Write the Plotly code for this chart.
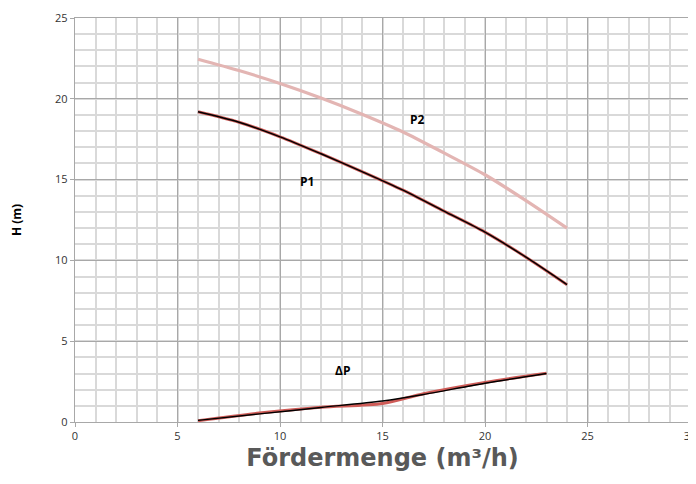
import plotly.graph_objects as go

# Förderstrom Q (m³/h)
q_pump = [6, 8, 10, 12, 14, 16, 18, 20, 22, 24]
h_p2 = [22.45, 21.75, 20.95, 20.05, 19.05, 17.95, 16.65, 15.3, 13.7, 12.0]
h_p1 = [19.2, 18.55, 17.65, 16.6, 15.5, 14.35, 13.05, 11.75, 10.2, 8.5]

q_dp = [6, 9, 12, 15, 17, 20, 23]
dp_black = [0.1, 0.5, 0.9, 1.3, 1.7, 2.4, 3.0]
dp_red = [0.08, 0.55, 0.92, 1.15, 1.75, 2.45, 3.02]

labels = [("P2", 16.7, 18.75), ("P1", 11.3, 14.9), ("ΔP", 13.05, 3.17)]

x_ticks = [0, 5, 10, 15, 20, 25, 30]
y_ticks = [0, 5, 10, 15, 20, 25]

PINK = "#e3b5b3"
RED = "#cf5c58"
INK = "#000000"
GRID_MAJOR = "#a8a8a8"
GRID_MINOR = "#d9d9d9"

fig = go.Figure()
fig.add_scatter(x=q_pump, y=h_p2, mode="lines",
                line=dict(color=PINK, width=3.2, shape="spline", smoothing=0.8))
fig.add_scatter(x=q_pump, y=h_p1, mode="lines",
                line=dict(color=RED, width=3, shape="spline", smoothing=0.8))
fig.add_scatter(x=q_pump, y=h_p1, mode="lines",
                line=dict(color=INK, width=1.4, shape="spline", smoothing=0.8))
fig.add_scatter(x=q_dp, y=dp_red, mode="lines",
                line=dict(color=RED, width=3, shape="spline", smoothing=0.8))
fig.add_scatter(x=q_dp, y=dp_black, mode="lines",
                line=dict(color=INK, width=1.4, shape="spline", smoothing=0.8))

for text, x, y in labels:
    fig.add_annotation(x=x, y=y, text=f"<b>{text}</b>", showarrow=False,
                       font=dict(family="Open Sans, sans-serif", size=12, color="#000"))

axis_common = dict(
    automargin=False,
    showgrid=True, gridcolor=GRID_MAJOR, gridwidth=1.3,
    minor=dict(dtick=1, showgrid=True, gridcolor=GRID_MINOR, gridwidth=1.5),
    zeroline=False, showline=True, linecolor=GRID_MAJOR, linewidth=1.3, mirror=True,
    ticks="outside", ticklen=4, tickcolor=GRID_MAJOR, tickwidth=1,
    ticklabeloverflow="allow",
    tickfont=dict(family="Open Sans, sans-serif", size=11, color="#333"),
)

fig.update_xaxes(range=[0, 30], tickvals=x_ticks, **axis_common,
                 title=dict(text="Fördermenge (m³/h)", standoff=6,
                            font=dict(family="DejaVu Sans, sans-serif", size=24,
                                      color="#595959", weight="bold")))
fig.update_yaxes(range=[0, 25], tickvals=y_ticks, **axis_common,
                 title=dict(text="<b>H (m)</b>", standoff=30,
                            font=dict(family="Open Sans, sans-serif", size=12, color="#000")))

# the page body adds an 8px offset, so the figure is sized and margined around it
fig.update_layout(
    width=688, height=476,
    margin=dict(l=67, r=6, t=10, b=62),
    paper_bgcolor="white", plot_bgcolor="white",
    showlegend=False,
)

fig.write_html("out.html")
